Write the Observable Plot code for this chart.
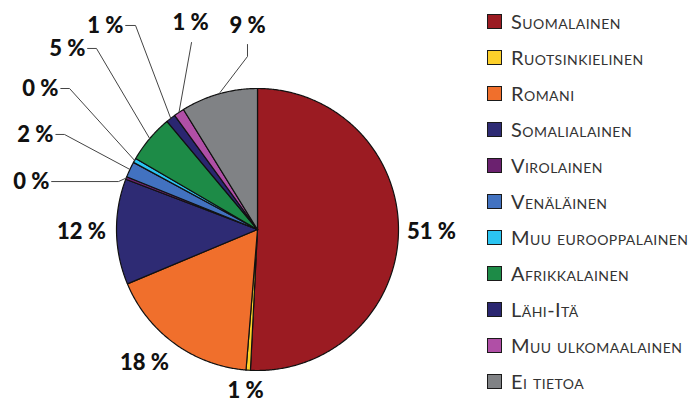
<!DOCTYPE html>
<html>
<head>
<meta charset="utf-8">
<script src="https://cdn.jsdelivr.net/npm/d3@7"></script>
<script src="https://cdn.jsdelivr.net/npm/@observablehq/plot@0.6"></script>
<style>
  body { margin: 0; background: #fff; }
  #wrap { position: relative; width: 691px; height: 402px; overflow: hidden; }
  #legend { position: absolute; left: 487px; top: 3px; font-family: Lato, "Open Sans", sans-serif; }
  .row { height: 36px; display: flex; align-items: center; }
  .sw { width: 13px; height: 13px; border: 1.5px solid #1a1a1a; box-sizing: content-box; margin-right: 9px; }
  .lab { font-size: 20px; font-variant: small-caps; color: #333; letter-spacing: 0.45px; white-space: nowrap; }
</style>
</head>
<body>
<div id="wrap"><div id="chart"></div><div id="legend"></div></div>
<script>
// ---- data ----
const categories = ["Suomalainen", "Ruotsinkielinen", "Romani", "Somalialainen", "Virolainen", "Venäläinen", "Muu eurooppalainen", "Afrikkalainen", "Lähi-Itä", "Muu ulkomaalainen", "Ei tietoa"];
const shares = [50.8, 0.5, 17.4, 12.1, 0.3, 1.8, 0.5, 5.5, 1.1, 1.2, 8.8];
const pctLabels = ["51 %", "1 %", "18 %", "12 %", "0 %", "2 %", "0 %", "5 %", "1 %", "1 %", "9 %"];
const colors = ["#9b1b22", "#fdd02a", "#f06f2c", "#2e2b74", "#6b216f", "#4272c0", "#2bc5f2", "#1d8b47", "#2a2670", "#b04fa6", "#808285"];

// ---- label layout (in pie-radius units) ----
const labelPos = [
  {x: 1.234, y: -0.014, anchor: "middle"},
  {x: -0.085, y: -1.142, anchor: "middle"},
  {x: -0.801, y: -0.950, anchor: "middle"},
  {x: -1.248, y: -0.014, anchor: "middle"},
  {x: -1.475, y: 0.340, anchor: "end", lead: [[-1.46, 0.340], [-0.986, 0.340]]},
  {x: -1.447, y: 0.674, anchor: "end", lead: [[-1.43, 0.674], [-1.369, 0.674]]},
  {x: -1.411, y: 1.000, anchor: "end", lead: [[-1.395, 1.000], [-1.333, 1.000]]},
  {x: -1.220, y: 1.284, anchor: "end", lead: [[-1.205, 1.284], [-1.142, 1.284]]},
  {x: -0.950, y: 1.447, anchor: "end", lead: [[-0.935, 1.447], [-0.865, 1.447]]},
  {x: -0.475, y: 1.468, anchor: "middle", lead: [[-0.468, 1.326]]},
  {x: -0.071, y: 1.447, anchor: "middle", lead: [[-0.071, 1.312], [-0.071, 1.227]]}
];

const rows = categories.map((c, i) => ({cat: c, value: shares[i], label: pctLabels[i], i}));
const arcs = d3.pie().sort(null).value(d => d.value).startAngle(0).endAngle(2 * Math.PI)(rows);

// slice polygons
const slicePts = [];
arcs.forEach(a => {
  const cat = a.data.cat;
  slicePts.push({cat, x: 0, y: 0});
  const n = Math.max(2, Math.ceil((a.endAngle - a.startAngle) / (Math.PI / 360)));
  for (let k = 0; k <= n; k++) {
    const t = a.startAngle + (a.endAngle - a.startAngle) * k / n;
    slicePts.push({cat, x: Math.sin(t), y: Math.cos(t)});
  }
  slicePts.push({cat, x: 0, y: 0});
});

// leader lines
const leadPts = [];
arcs.forEach((a, i) => {
  const lp = labelPos[i];
  if (!lp.lead) return;
  const mid = (a.startAngle + a.endAngle) / 2;
  lp.lead.forEach(p => leadPts.push({cat: a.data.cat, x: p[0], y: p[1]}));
  leadPts.push({cat: a.data.cat, x: Math.sin(mid), y: Math.cos(mid)});
});

const textRows = rows.map((r, i) => ({...r, x: labelPos[i].x, y: labelPos[i].y, anchor: labelPos[i].anchor}));
const labelFont = {fontSize: 22, fontWeight: 900, fill: "#111", fontFamily: "Lato, 'Open Sans', sans-serif"};

const plot = Plot.plot({
  width: 691,
  height: 402,
  marginLeft: 116,
  marginRight: 293,
  marginTop: 88,
  marginBottom: 32,
  x: {domain: [-1, 1], axis: null},
  y: {domain: [-1, 1], axis: null},
  color: {domain: categories, range: colors},
  style: {overflow: "visible"},
  marks: [
    Plot.line(slicePts, {x: "x", y: "y", z: "cat", fill: "cat", stroke: "#111", strokeWidth: 1.2, strokeLinejoin: "round"}),
    Plot.line(leadPts, {x: "x", y: "y", z: "cat", stroke: "#444", strokeWidth: 1}),
    Plot.text(textRows.filter(d => d.anchor === "middle"), {x: "x", y: "y", text: "label", textAnchor: "middle", ...labelFont}),
    Plot.text(textRows.filter(d => d.anchor === "end"), {x: "x", y: "y", text: "label", textAnchor: "end", ...labelFont})
  ]
});
document.getElementById("chart").appendChild(plot);

const legend = document.getElementById("legend");
categories.forEach((c, i) => {
  const row = document.createElement("div");
  row.className = "row";
  const sw = document.createElement("div");
  sw.className = "sw";
  sw.style.background = colors[i];
  const lab = document.createElement("div");
  lab.className = "lab";
  lab.textContent = c;
  row.appendChild(sw);
  row.appendChild(lab);
  legend.appendChild(row);
});
</script>
</body>
</html>
